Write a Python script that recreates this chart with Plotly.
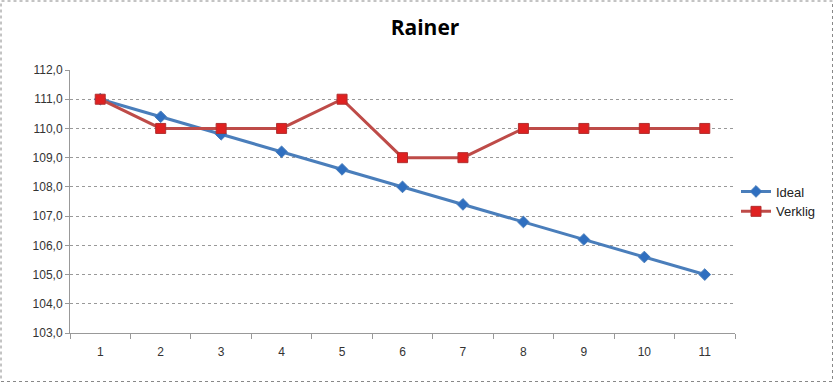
import plotly.graph_objects as go

categories = [str(i) for i in range(1, 12)]
ideal = [111.0, 110.4, 109.8, 109.2, 108.6, 108.0, 107.4, 106.8, 106.2, 105.6, 105.0]
verklig = [111, 110, 110, 110, 111, 109, 109, 110, 110, 110, 110]
y_ticks = [103, 104, 105, 106, 107, 108, 109, 110, 111, 112]

W, H = 834, 383
L, R, T, B = 70, 99, 70, 50
pw, ph = W - L - R, H - T - B

fig = go.Figure()
fig.add_trace(go.Scatter(
    x=categories, y=ideal, name="Ideal", mode="lines+markers",
    line=dict(color="#4A7EBB", width=3),
    marker=dict(symbol="diamond", size=9, color="#2F6FC0", line=dict(color="#4A7EBB", width=1)),
))
fig.add_trace(go.Scatter(
    x=categories, y=verklig, name="Verklig", mode="lines+markers",
    line=dict(color="#BE4B48", width=3),
    marker=dict(symbol="square", size=10, color="#E02020", line=dict(color="#B03030", width=1)),
))

fig.update_layout(
    width=W, height=H,
    margin=dict(l=L, r=R, t=T, b=B, autoexpand=False),
    paper_bgcolor="white", plot_bgcolor="white",
    separators=",.",
    font=dict(family="Liberation Sans, Arial, sans-serif", size=12, color="#333333"),
    title=dict(text="<b>Rainer</b>", x=(425) / W, xanchor="center", y=1 - 28 / H, yanchor="middle",
               font=dict(size=21, color="black", family="Open Sans, Liberation Sans, sans-serif")),
    showlegend=True,
    legend=dict(x=(736 - L) / pw, xanchor="left", y=0.5, yanchor="middle",
                font=dict(size=13, color="#222"), bgcolor="rgba(0,0,0,0)",
                tracegroupgap=4, itemwidth=30),
    shapes=[dict(type="rect", xref="paper", yref="paper",
                 x0=(1 - L) / pw, x1=(W - 1.5 - L) / pw,
                 y0=(T + ph - (H - 1.5)) / ph, y1=(T + ph - 1) / ph,
                 line=dict(color="#888888", width=1, dash="dot"), layer="below")],
)
fig.update_xaxes(
    type="category", tickson="boundaries", ticks="outside", ticklen=5, tickcolor="#999",
    showline=True, linecolor="#999", linewidth=1, showgrid=False, ticklabelstandoff=8,
    tickfont=dict(size=12, color="#333"), range=[-0.5, 10.5],
)
fig.update_yaxes(
    range=[103, 112], tickvals=y_ticks, tickformat=".1f",
    showgrid=True, gridcolor="#999", griddash="dot", gridwidth=1,
    showline=True, linecolor="#999", linewidth=1, ticks="outside", ticklen=4, tickcolor="#999",
    zeroline=False, tickfont=dict(size=12, color="#333"),
)
fig.write_html("out.html", config={"displayModeBar": False},
               post_script="document.body.style.margin='0';document.body.style.overflow='hidden';")
